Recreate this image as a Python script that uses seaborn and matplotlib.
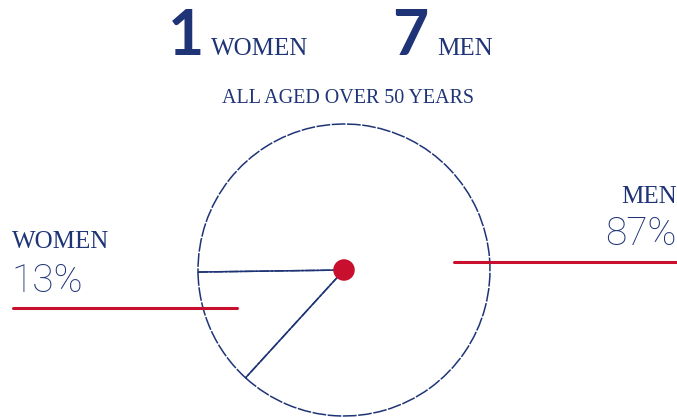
import matplotlib
matplotlib.use("Agg")
import matplotlib.pyplot as plt
import seaborn as sns

# data
groups = ["WOMEN", "MEN"]
counts = [1, 7]
shares = [13, 87]
subtitle = "ALL AGED OVER 50 YEARS"

navy = "#1f3476"
red = "#c8102e"

sns.set_theme(style="white")
plt.rcParams['font.family'] = ['Liberation Serif', 'DejaVu Sans']

W, H = 677, 418
fig = plt.figure(figsize=(W / 100, H / 100), dpi=100)

def px(x, y):
    return x / W, 1 - y / H

# pie: centre (344, 270), radius ~146 px
cx, cy, r = 344, 270, 146
ax = fig.add_axes([(cx - r) / W, (H - cy - r) / H, 2 * r / W, 2 * r / H])
wedges, _ = ax.pie(shares, startangle=180.8, counterclock=True, radius=1,
                   wedgeprops=dict(fill=False, edgecolor=navy, linewidth=1.1,
                                   linestyle=(0, (9, 1.0))))
ax.scatter([0], [0], s=240, color=red, zorder=5, edgecolors="none")
ax.set_xlim(-1.0, 1.0)
ax.set_ylim(-1.0, 1.0)
ax.set_aspect("equal")
ax.axis("off")

# headline counts
fig.text(*px(168, 55), str(counts[0]), fontsize=45, fontweight="bold",
         family="Lato", color=navy, va="baseline", ha="left")
fig.text(*px(211, 55), groups[0], fontsize=18, color=navy, va="baseline", ha="left")
fig.text(*px(392, 55), str(counts[1]), fontsize=45, fontweight="bold",
         family="Lato", color=navy, va="baseline", ha="left")
fig.text(*px(437, 55), groups[1], fontsize=18, color=navy, va="baseline", ha="left")
fig.text(*px(348, 103), subtitle, fontsize=14.4, color=navy, va="baseline", ha="center")

# side labels
fig.text(*px(12, 248), groups[0], fontsize=18, color=navy, va="baseline", ha="left")
fig.text(*px(11, 292), f"{shares[0]}%", fontsize=28, fontweight="light",
         family="Roboto", color=navy, va="baseline", ha="left")
fig.text(*px(677, 203), groups[1], fontsize=18, color=navy, va="baseline", ha="right")
fig.text(*px(677, 245), f"{shares[1]}%", fontsize=28, fontweight="light",
         family="Roboto", color=navy, va="baseline", ha="right")

# red leader lines
fig.add_artist(plt.Line2D([13 / W, 237 / W], [1 - 308 / H] * 2, color=red, linewidth=2.2))
fig.add_artist(plt.Line2D([454 / W, 677 / W], [1 - 262 / H] * 2, color=red, linewidth=2.2))

fig.savefig("out.png", dpi=100, facecolor="white")
